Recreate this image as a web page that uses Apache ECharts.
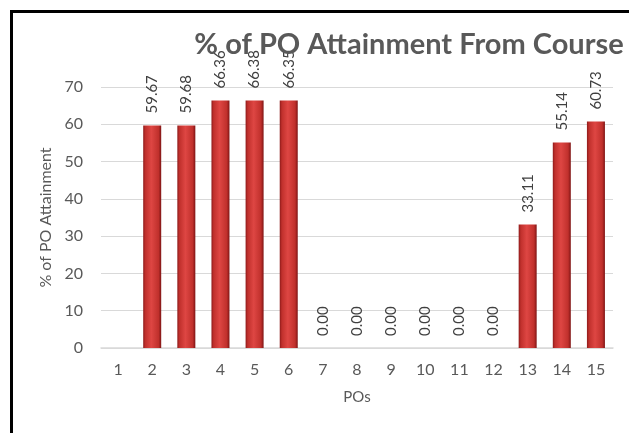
<!DOCTYPE html>
<html><head><meta charset="utf-8">
<script src="https://cdn.jsdelivr.net/npm/echarts@6/dist/echarts.min.js"></script>
<style>html,body{margin:0;padding:0;background:#fff}#c{width:629px;height:433px}</style>
</head><body><div id="c"></div>
<script>
const categories = ['1','2','3','4','5','6','7','8','9','10','11','12','13','14','15'];
const values = [null, 59.67, 59.68, 66.36, 66.38, 66.35, 0, 0, 0, 0, 0, 0, 33.11, 55.14, 60.73];
const yTicks = [0, 10, 20, 30, 40, 50, 60, 70];
const titleText = '% of PO Attainment From Course';
const xName = 'POs';
const yName = '% of PO Attainment';

const chart = echarts.init(document.getElementById('c'), null, {renderer: 'canvas'});
const barGrad = new echarts.graphic.LinearGradient(0, 0, 1, 0, [
  {offset: 0, color: '#8e1a1a'},
  {offset: 0.12, color: '#c0302c'},
  {offset: 0.45, color: '#de4643'},
  {offset: 0.85, color: '#c0302c'},
  {offset: 1, color: '#7e1414'}
]);
chart.setOption({
  animation: false,
  textStyle: {fontFamily: 'Lato, "Open Sans", sans-serif'},
  graphic: [
    {type: 'line', shape: {x1: 11.5, y1: 11.5, x2: 640, y2: 11.5}, style: {stroke: '#000', lineWidth: 3}, z: 100},
    {type: 'line', shape: {x1: 11.5, y1: 10, x2: 11.5, y2: 440}, style: {stroke: '#000', lineWidth: 3}, z: 100}
  ],
  title: {
    text: titleText, left: 404, top: 25, textAlign: 'center',
    textStyle: {fontFamily: 'Lato, sans-serif', fontWeight: 'bold', fontSize: 29, color: '#595959'}
  },
  grid: {left: 101, right: 16, top: 87, bottom: 85},
  xAxis: {
    type: 'category', data: categories,
    name: xName, nameLocation: 'middle', nameGap: 42,
    nameTextStyle: {fontSize: 15, color: '#595959'},
    axisLine: {lineStyle: {color: '#d9d9d9', width: 1.5}},
    axisTick: {show: false},
    axisLabel: {fontSize: 16, color: '#595959', margin: 14}
  },
  yAxis: {
    type: 'value', min: yTicks[0], max: yTicks[yTicks.length - 1], interval: 10,
    name: yName, nameLocation: 'middle', nameGap: 45, nameRotate: 90,
    nameTextStyle: {fontSize: 16, color: '#595959'},
    axisLine: {show: false}, axisTick: {show: false},
    axisLabel: {fontSize: 16, color: '#595959', margin: 18},
    splitLine: {lineStyle: {color: '#d9d9d9', width: 1}}
  },
  series: [{
    type: 'bar', data: values, barWidth: 18,
    itemStyle: {color: barGrad},
    label: {
      show: true, position: 'top', rotate: 90, align: 'left', verticalAlign: 'middle',
      distance: 12, fontSize: 15, color: '#404040',
      formatter: p => (p.value == null ? '' : Number(p.value).toFixed(2))
    }
  }]
});
</script></body></html>
